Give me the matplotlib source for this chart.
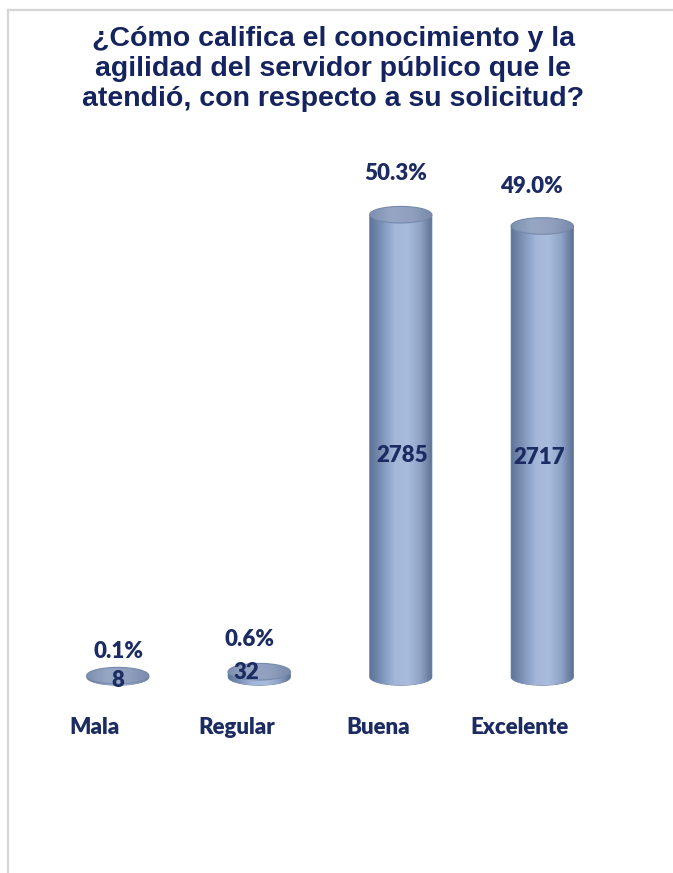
import matplotlib.pyplot as plt
import numpy as np
from matplotlib.colors import LinearSegmentedColormap
from matplotlib.patches import Ellipse, PathPatch
from matplotlib.path import Path

# ── data ──────────────────────────────────────────────────────────────────────

categories = ["Mala", "Regular", "Buena", "Excelente"]
counts = [8, 32, 2785, 2717]
shares = ["0.1%", "0.6%", "50.3%", "49.0%"]

TITLE = ("¿Cómo califica el conocimiento y la\n"
         "agilidad del servidor público que le\n"
         "atendió, con respecto a su solicitud?")

NAVY = "#15245e"
LABEL_NAVY = "#1c2c62"

# ── figure / axes ─────────────────────────────────────────────────────────────

W, H = 673, 873
PX_PER_UNIT = 0.166
Y0_PX = 677                    # pixel row of the zero line
YMIN, YMAX = -300, 3000
ax_h = (YMAX - YMIN) * PX_PER_UNIT
ax_bottom = Y0_PX - YMIN * PX_PER_UNIT

fig = plt.figure(figsize=(W / 100, H / 100), dpi=100)
ax = fig.add_axes([47 / W, (H - ax_bottom) / H, 566 / W, ax_h / H])
ax.set_xlim(-0.5, 3.5)
ax.set_ylim(YMIN, YMAX)
ax.axis("off")

# frame lines top and left
fig.add_artist(plt.Line2D([8 / W, 1], [1 - 10 / H, 1 - 10 / H], color="#d6d6d6", lw=1.6))
fig.add_artist(plt.Line2D([8 / W, 8 / W], [0, 1 - 10 / H], color="#d6d6d6", lw=1.6))

fig.text(333 / W, 1 - 69 / H, TITLE, ha="center", va="center", fontsize=20.5,
         fontweight="bold", color=NAVY, family="Liberation Sans", linespacing=1.2)

# ── cylinders ─────────────────────────────────────────────────────────────────

cyl_cmap = LinearSegmentedColormap.from_list(
    "cyl", ["#5d7397", "#7f96bb", "#a3b7da", "#a9bcdd", "#8ea3c6", "#5a6e90"])
top_cmap = LinearSegmentedColormap.from_list(
    "top", ["#7d90b0", "#96a7c4", "#909fbe", "#7889aa"])
grad = np.linspace(0, 1, 256).reshape(1, -1)

bw = 0.44      # cylinder width (data units)
eh = 100       # ellipse height (data units)

for i, v in enumerate(counts):
    x0, x1 = i - bw / 2, i + bw / 2
    t = np.linspace(np.pi, 2 * np.pi, 60)
    bottom = np.column_stack([i + bw / 2 * np.cos(t), eh / 2 * np.sin(t)])
    verts = np.vstack([bottom, [[x1, v], [x0, v], bottom[0]]])
    body = PathPatch(Path(verts, closed=True), facecolor="none", edgecolor="#6c80a2", lw=0.6)
    ax.add_patch(body)
    im = ax.imshow(grad, cmap=cyl_cmap, aspect="auto",
                   extent=(x0, x1, -eh / 2, v), zorder=2)
    im.set_clip_path(body)

    top = Ellipse((i, v), bw, eh, facecolor="none", edgecolor="#7589ab", lw=0.8, zorder=4)
    ax.add_patch(top)
    imt = ax.imshow(grad, cmap=top_cmap, aspect="auto",
                    extent=(x0, x1, v - eh / 2, v + eh / 2), zorder=3)
    imt.set_clip_path(top)

# ── labels ────────────────────────────────────────────────────────────────────

PT = 0.72  # points per pixel at 100 dpi
share_dx = [1, -10, -5, -11]
share_dy = [24, 32, 41, 39]
count_dx = [0, -13, 1, -3]
count_dy = [4, -2, 10, 6]
lbl = dict(fontsize=16, fontweight="heavy", color=LABEL_NAVY, family="Lato",
           ha="center", va="center", annotation_clip=False)

for i, (v, s) in enumerate(zip(counts, shares)):
    ax.annotate(s, (i, v), xytext=(share_dx[i] * PT, share_dy[i] * PT),
                textcoords="offset points", **lbl)
    ax.annotate(str(v), (i, v / 2), xytext=(count_dx[i] * PT, -count_dy[i] * PT),
                textcoords="offset points", zorder=6, **lbl)
    ax.annotate(categories[i], (i, 0), xytext=(-23 * PT, -50 * PT),
                textcoords="offset points", **lbl)

fig.savefig("out.png", dpi=100)
